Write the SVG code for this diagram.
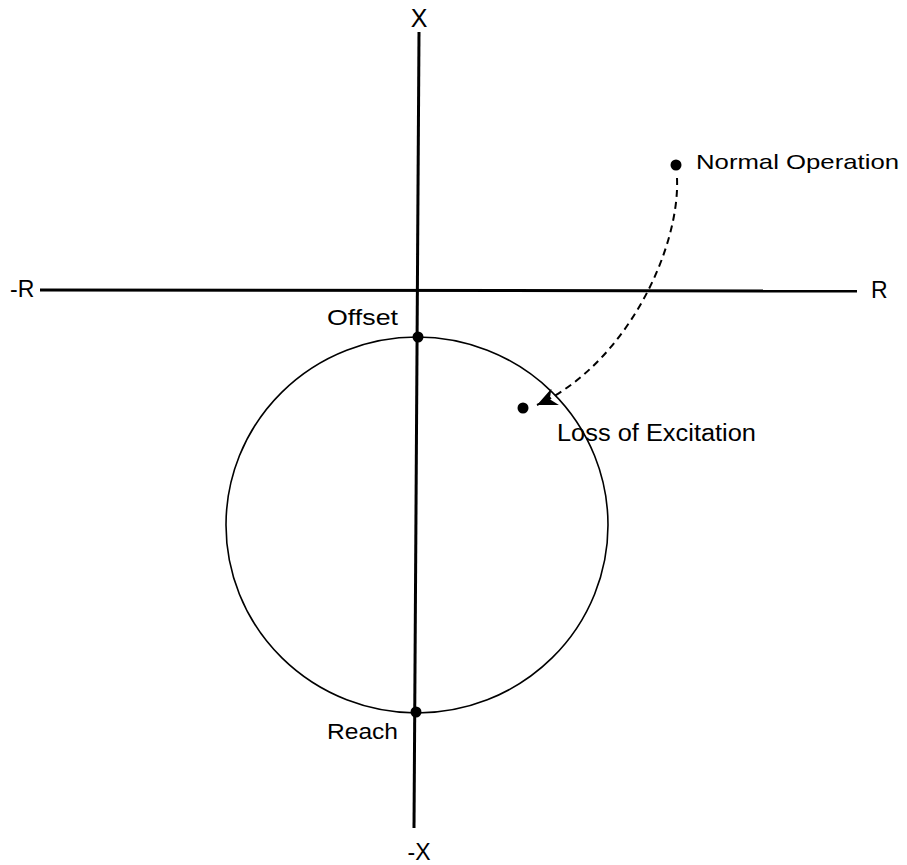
<svg xmlns="http://www.w3.org/2000/svg" width="907" height="865" viewBox="0 0 907 865">
<style>
text{font-family:"Liberation Sans",Arial,Helvetica,sans-serif;fill:#000}
.axis{stroke:#000;stroke-width:3;fill:none}
.thin{stroke:#000;stroke-width:1.6;fill:none}
.dash{stroke:#000;stroke-width:2;fill:none;stroke-dasharray:7,5}
.dot{fill:#000}
</style>
<defs>
<marker id="arr" markerUnits="userSpaceOnUse" markerWidth="22" markerHeight="18" viewBox="0 0 22 18" refX="20" refY="9" orient="auto">
<path d="M0,0 L20,9 L0,18 L6,9 z" fill="#000"/>
</marker>
</defs>
<g id="axes">
<line class="axis" x1="419" y1="32" x2="414" y2="828"/>
<line class="axis" x1="40" y1="290" x2="857" y2="291"/>
<text x="419" y="27" font-size="25" text-anchor="middle">X</text>
<text x="419" y="860" font-size="23" text-anchor="middle">-X</text>
<text x="10" y="297" font-size="23">-R</text>
<text x="871" y="298" font-size="23">R</text>
</g>
<g id="circle">
<ellipse class="thin" cx="417" cy="525" rx="191" ry="188"/>
</g>
<g id="offset">
<circle class="dot" cx="418" cy="337" r="5.5"/>
<text x="327" y="325" font-size="22" textLength="71" lengthAdjust="spacingAndGlyphs">Offset</text>
</g>
<g id="reach">
<circle class="dot" cx="416" cy="712" r="5.5"/>
<text x="327" y="739" font-size="22" textLength="71" lengthAdjust="spacingAndGlyphs">Reach</text>
</g>
<g id="normal">
<circle class="dot" cx="676" cy="165" r="5.5"/>
<text x="696" y="169" font-size="21" textLength="203" lengthAdjust="spacingAndGlyphs">Normal Operation</text>
</g>
<g id="loss">
<circle class="dot" cx="523" cy="408" r="5.5"/>
<text x="557" y="441" font-size="23" textLength="199" lengthAdjust="spacingAndGlyphs">Loss of Excitation</text>
</g>
<g id="connectors">
<path class="dash" d="M677,178 C680,250 625,365 537,405" marker-end="url(#arr)"/>
</g>
</svg>
